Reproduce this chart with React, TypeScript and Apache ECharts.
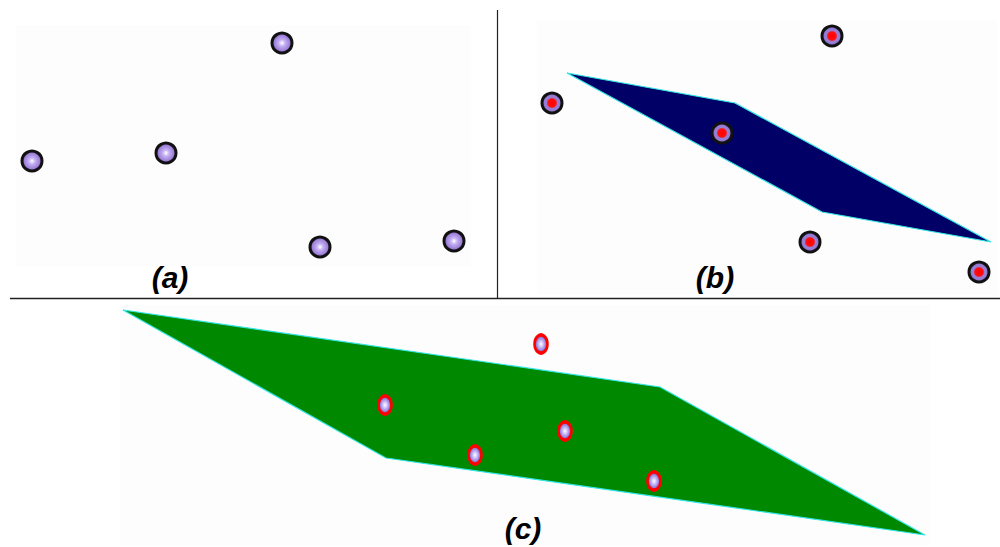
import React, { useEffect, useRef } from "react";
import * as echarts from "echarts";

// Panel (a): plain points
const pointsA: number[][] = [[32, 161], [166, 153], [282, 43], [320, 247], [454, 241]];
// Panel (b): points and a navy parallelogram
const pointsB: number[][] = [[552, 103], [722, 133], [832, 36], [810, 242], [979, 272]];
const polygonB: number[][] = [[567, 73], [735, 103], [991, 242], [822, 212]];
// Panel (c): points and a green parallelogram
const pointsC: number[][] = [[541, 344], [385, 405], [565, 431], [475, 455], [654, 481]];
const polygonC: number[][] = [[123, 310], [660, 387], [925, 535], [386, 458]];
// Labels
const labels: { text: string; pos: number[] }[] = [
  { text: "(a)", pos: [170, 277] },
  { text: "(b)", pos: [715, 277] },
  { text: "(c)", pos: [523, 528] },
];

const W = 1000;
const H = 547;

export default function App() {
  const ref = useRef<HTMLDivElement>(null);
  useEffect(() => {
    document.body.style.margin = "0";
    const chart = echarts.init(ref.current!, undefined, { renderer: "svg" });

    const polySeries = (pts: number[][], fill: string) => ({
      type: "custom",
      coordinateSystem: "cartesian2d",
      data: [0],
      z: 1,
      renderItem: (_p: any, api: any) => ({
        type: "polygon",
        shape: { points: pts.map((p) => api.coord(p)) },
        style: { fill, stroke: "#33e6e6", lineWidth: 1.2 },
      }),
    });

    const lavender = new echarts.graphic.RadialGradient(0.5, 0.5, 0.55, [
      { offset: 0, color: "#ffffff" },
      { offset: 0.3, color: "#c4aef2" },
      { offset: 1, color: "#7e5cc6" },
    ]);
    const redCenter = new echarts.graphic.RadialGradient(0.5, 0.5, 0.5, [
      { offset: 0, color: "#ff0000" },
      { offset: 0.42, color: "#ff1010" },
      { offset: 0.55, color: "#9a7fd6" },
      { offset: 1, color: "#8e74cf" },
    ]);
    const whiteCenter = new echarts.graphic.RadialGradient(0.5, 0.5, 0.55, [
      { offset: 0, color: "#ffffff" },
      { offset: 0.25, color: "#d8ccff" },
      { offset: 1, color: "#5a3fb8" },
    ]);

    chart.setOption({
      animation: false,
      backgroundColor: "#ffffff",
      grid: { left: 0, right: 0, top: 0, bottom: 0 },
      xAxis: { type: "value", min: 0, max: W, show: false },
      yAxis: { type: "value", min: 0, max: H, inverse: true, show: false },
      graphic: [
        { type: "rect", shape: { x: 16, y: 25, width: 455, height: 242 }, style: { fill: "#fdfdfd" }, z: -10 },
        { type: "rect", shape: { x: 537, y: 20, width: 460, height: 275 }, style: { fill: "#fdfdfd" }, z: -10 },
        { type: "rect", shape: { x: 120, y: 305, width: 810, height: 240 }, style: { fill: "#fdfdfd" }, z: -10 },
        { type: "line", shape: { x1: 10, y1: 298.5, x2: 1000, y2: 298.5 }, style: { stroke: "#222", lineWidth: 1.5 }, z: 5 },
        { type: "line", shape: { x1: 497.5, y1: 10, x2: 497.5, y2: 298 }, style: { stroke: "#222", lineWidth: 1.2 }, z: 5 },
        ...labels.map((l) => ({
          type: "text",
          x: l.pos[0],
          y: l.pos[1],
          z: 10,
          style: {
            text: l.text,
            font: "italic bold 30px 'Liberation Sans', Arial, sans-serif",
            fill: "#000",
            align: "center",
            verticalAlign: "middle",
          },
        })),
      ],
      series: [
        polySeries(polygonB, "#000066"),
        polySeries(polygonC, "#008800"),
        {
          type: "scatter",
          data: pointsA,
          symbol: "circle",
          symbolSize: 20,
          z: 3,
          itemStyle: { color: lavender, borderColor: "#111", borderWidth: 3, opacity: 1 },
        },
        {
          type: "scatter",
          data: pointsB,
          symbol: "circle",
          symbolSize: 20,
          z: 3,
          itemStyle: { color: redCenter, borderColor: "#111", borderWidth: 3, opacity: 1 },
        },
        {
          type: "scatter",
          data: pointsC,
          symbol: "circle",
          symbolSize: [13, 18],
          z: 3,
          itemStyle: { color: whiteCenter, borderColor: "#ff0000", borderWidth: 3, opacity: 1 },
        },
      ],
    });
    return () => chart.dispose();
  }, []);
  return <div ref={ref} style={{ width: W, height: H }} />;
}
